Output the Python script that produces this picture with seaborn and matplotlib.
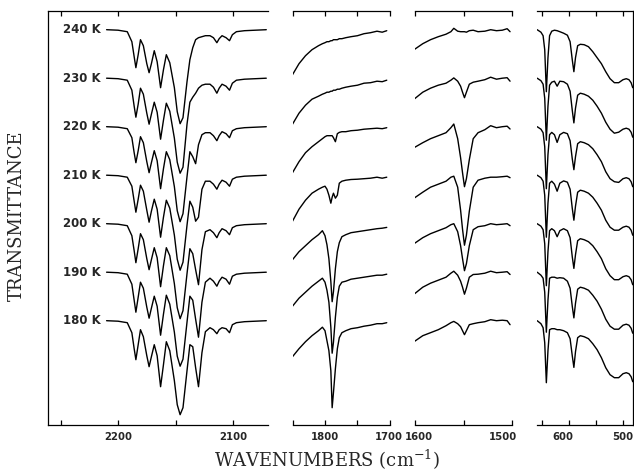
import numpy as np
import pandas as pd
import matplotlib
matplotlib.use("Agg")
import matplotlib.pyplot as plt
import seaborn as sns
from matplotlib.transforms import ScaledTranslation, offset_copy

# ---------------- data ----------------
TEMPS = ["240 K", "230 K", "220 K", "210 K", "200 K", "190 K", "180 K"]

# panel 1 : CO stretch region (wavenumber, cm-1)
WN_2150 = [2210, 2200, 2192, 2188, 2186, 2184.5, 2182.5, 2180.5, 2178, 2175,
           2173, 2171, 2168.5, 2166, 2163, 2160.5, 2158, 2155, 2151, 2148.5,
           2146, 2143.5, 2140, 2137.5, 2135, 2132.5, 2130, 2127, 2124, 2120,
           2117, 2114, 2112, 2109.5, 2106, 2103, 2100.5, 2097, 2090, 2071]
# transmittance drop below each trace's baseline (arbitrary units)
DROP_2150 = {
    "240 K": [0, 0.5, 2, 12, 27, 38, 25, 10, 16, 34, 43, 34, 21, 32, 58, 40, 25, 33, 58, 82,
              94, 88, 52, 30, 18, 10, 8, 7, 6, 6, 8, 13, 9, 6, 8, 11, 5, 2, 1, 0],
    "230 K": [0, 0.5, 2, 12, 28, 39, 26, 10, 16, 35, 46, 36, 24, 34, 61, 42, 25, 33, 60, 84,
              95, 89, 46, 24, 19, 15, 10, 7, 6, 6, 9, 15, 10, 6, 8, 12, 5, 2, 1, 0],
    "220 K": [0, 0.5, 2, 11, 26, 36, 24, 10, 16, 35, 46, 36, 24, 34, 62, 42, 25, 33, 60, 84,
              95, 87, 50, 25, 30, 37, 18, 8, 6, 6, 9, 14, 9, 5, 7, 11, 4, 2, 1, 0],
    "210 K": [0, 0.5, 2, 11, 26, 37, 24, 10, 16, 35, 47, 36, 24, 34, 62, 42, 25, 33, 60, 84,
              95, 87, 50, 26, 32, 46, 42, 14, 6, 6, 9, 14, 9, 5, 7, 11, 4, 2, 1, 0],
    "200 K": [0, 0.5, 2, 12, 27, 39, 25, 10, 16, 35, 46, 36, 24, 34, 63, 42, 24, 32, 60, 84,
              95, 87, 50, 25, 30, 46, 61, 26, 8, 6, 9, 14, 9, 5, 7, 11, 4, 2, 1, 0],
    "190 K": [0, 0.5, 2, 12, 28, 40, 25, 10, 16, 35, 46, 36, 24, 34, 63, 42, 23, 32, 60, 84,
              94, 87, 50, 24, 28, 47, 65, 30, 10, 6, 9, 14, 9, 5, 7, 12, 4, 2, 1, 0],
    "180 K": [0, 0.5, 2, 12, 28, 39, 24, 9, 16, 35, 46, 36, 24, 35, 66, 44, 21, 30, 60, 84,
              94, 87, 50, 24, 26, 47, 66, 32, 11, 7, 9, 13, 9, 7, 8, 12, 4, 2, 1, 0],
}

# panel 2 : 1850-1700 cm-1
WN_1800 = [1850, 1840, 1830, 1820, 1810, 1804, 1800, 1797, 1794, 1791, 1789, 1787,
           1784, 1781, 1778, 1774, 1768, 1760, 1750, 1740, 1730, 1720, 1712, 1705]
DROP_1800 = {
    "240 K": [45, 34, 26, 20, 16, 14, 13, 12, 12, 11, 11, 10, 10, 10, 9, 9, 8, 7, 6, 4, 3, 1.5, 2.5, 1],
    "230 K": [46, 35, 27, 21, 18, 16, 15, 14, 14, 13, 13, 12, 12, 11, 11, 10, 9, 8, 7, 5, 4.5, 3, 3.5, 2],
    "220 K": [46, 35, 26, 20, 15, 12, 10, 9, 9, 9, 9, 11, 15, 7, 5.7, 5, 5, 4, 3.5, 2.5, 2, 1.5, 2, 1],
    "210 K": [46, 34, 25, 18, 14, 12, 11, 14, 20, 28, 22, 18, 23, 20, 8, 6, 5, 4.3, 4, 3.5, 3, 2, 3, 2],
    "200 K": [36, 28, 22, 16, 11, 7, 12, 21, 35, 58, 78, 68, 45, 28, 19, 13, 11, 9, 8, 7, 6, 5, 4.5, 3.7],
    "190 K": [34, 26, 20, 14, 9, 6, 10, 18, 30, 55, 81, 70, 45, 25, 14, 10, 9, 7, 6, 5, 4, 3, 3, 2],
    "180 K": [36, 28, 21, 15, 10, 6.5, 10, 20, 30, 50, 87, 72, 48, 28, 17, 12, 10, 8, 7, 5.5, 4.5, 3, 3, 2],
}

# panel 3 : 1600-1500 cm-1
WN_1550 = [1601, 1592, 1584, 1576, 1568, 1563, 1560, 1556, 1553, 1551, 1549,
           1547, 1544, 1540, 1535, 1528, 1522, 1516, 1510, 1505, 1502]
DROP_1550 = {
    "240 K": [20, 14, 10, 7, 4.5, 2, -1.4, 1.5, 2, 2, 2, 2.5, 1, 0.5, 2, 1.5, 0, 1, 0.5, -1, 2],
    "230 K": [21, 14, 10, 7, 5, 2, -0.3, 3, 8, 14, 19.5, 14, 6, 4, 3, 1.5, -1, 1, 0, -0.5, 3],
    "220 K": [21, 16, 12, 9, 6, 1, -2.7, 12, 31, 46, 60, 52, 33, 12, 6, 3, -1, 1, 0, -0.5, 2.3],
    "210 K": [23, 17, 12, 9, 6, 2, 1, 12, 35, 54, 70, 60, 36, 12, 5, 3, 2, 2, 1.5, 1, 2.5],
    "200 K": [20, 14, 10, 7, 4, 1, 0, 8, 22, 35, 47, 40, 22, 6, 3, 2, 0, 1, 0.5, 0, 2],
    "190 K": [22, 15, 11, 8, 5, 1, -1, 3, 9, 15, 22, 16, 5, 2.3, 2, 1, -1, 0.5, 0, -0.5, 2.3],
    "180 K": [21, 15, 12, 9, 5, 2, 0.7, 3, 6, 10, 14, 10, 4, 3, 2, 1, -1, 0, -0.5, 0, 4],
}

# panel 4 : 660-480 cm-1
WN_600 = [659, 652, 648, 645, 642, 639, 636, 632, 627, 622, 617, 610, 603, 598, 594, 591, 588,
          584, 579, 572, 564, 556, 548, 540, 532, 524, 516, 508, 500, 494, 489, 485, 482]
DROP_600 = {
    "240 K": [0, 2.5, 6, 20, 62, 28, 6, 1.5, 0.5, 1, 2, 3.5, 5.5, 12, 30, 42, 28, 16, 14.6, 15, 17,
              22, 28, 34, 42, 49, 53, 53, 50, 49, 50, 53, 58],
    "230 K": [0, 2.5, 6, 20, 62, 28, 7, 4, 3, 8, 3, 3.5, 6, 13, 32, 44.7, 30, 17, 15, 16, 18,
              22, 28, 35, 44, 51, 55, 54, 51, 50, 51, 54, 59],
    "220 K": [0, 2.5, 6, 20, 62, 28, 8, 5.7, 8, 15.7, 8, 5.7, 7, 14, 32, 43, 30, 17, 15, 16, 18,
              22, 28, 35, 45, 52, 55, 55.7, 52, 51, 52, 55, 60],
    "210 K": [0, 2.5, 6, 20, 62, 28, 8, 6, 9, 16, 8, 5.7, 7, 14, 33, 45, 31, 17, 15, 16, 18,
              22, 28, 35, 45, 52, 55, 55, 52, 51, 52, 55, 60],
    "200 K": [0, 2.5, 6, 20, 62, 28, 7, 5, 7, 13, 7, 5, 7, 14, 33, 44.7, 31, 17, 15, 16, 18,
              22, 28, 35, 45, 52, 56, 56, 53, 52, 53, 56, 61],
    "190 K": [0, 3, 6, 20, 60, 28, 6, 5, 5, 6, 5.5, 6, 9, 16, 34, 45.7, 31, 17, 15, 16, 18,
              23, 29, 37, 47, 54, 57, 57, 53, 52, 53, 56, 61],
    "180 K": [0, 3, 7, 22, 62, 30, 9, 8, 8, 9, 9, 10, 12, 18, 35, 46.7, 31, 17, 15, 16, 18,
              23, 29, 37, 47, 54, 57, 57, 53, 52, 53, 56, 61],
}

# axis ranges / ticks (cm-1)
XLIM = [(2261, 2069.5), (1850, 1700), (1600, 1500), (659.3, 481.5)]
MAJOR = [[2200, 2100], [1800, 1700], [1600, 1500], [600, 500]]
MINOR = [[2250, 2150], [1850, 1750], [1550], [650, 550]]

# ---------------- layout ----------------
W, H = 634, 471
SPACING = 48.5           # vertical offset between stacked traces
YLIM = (-395.3, 18.7)
PANELS_PX = [(48, 268), (292.5, 390), (415, 512), (537, 633)]
TOP_PX, BOT_PX = 11, 425

sns.set_style("white")
plt.rcParams["font.family"] = ["DejaVu Sans"]
plt.rcParams["mathtext.fontset"] = "dejavuserif"

fig = plt.figure(figsize=(W / 100, H / 100), dpi=100)

datasets = [(WN_2150, DROP_2150), (WN_1800, DROP_1800),
            (WN_1550, DROP_1550), (WN_600, DROP_600)]

axes = []
for k, ((x0, x1), (wn, drops)) in enumerate(zip(PANELS_PX, datasets)):
    ax = fig.add_axes([x0 / W, 1 - BOT_PX / H, (x1 - x0) / W, (BOT_PX - TOP_PX) / H])
    rows = []
    for i, t in enumerate(TEMPS):
        for w, d in zip(wn, drops[t]):
            rows.append({"wn": w, "T": -d - i * SPACING, "temp": t})
    df = pd.DataFrame(rows)
    sns.lineplot(data=df, x="wn", y="T", units="temp", estimator=None,
                 color="black", linewidth=1.0, ax=ax, legend=False)
    ax.set_xlim(*XLIM[k])
    ax.set_ylim(*YLIM)
    ax.set_xlabel("")
    ax.set_ylabel("")
    ax.set_yticks([])
    ax.set_xticks(MAJOR[k], labels=[str(v) for v in MAJOR[k]])
    ax.set_xticks(MINOR[k], minor=True)
    ax.tick_params(axis="x", which="both", direction="in", top=True, bottom=True,
                   length=3.5, width=0.9, color="black", pad=5)
    for lab in ax.get_xticklabels():
        lab.set_fontsize(7.3)
        lab.set_fontweight("bold")
    for side, sp in ax.spines.items():
        sp.set_linewidth(0.9)
        sp.set_color("black")
    ax.spines["left"].set_visible(k == 0)
    ax.spines["right"].set_visible(k == 3)
    ax.patch.set_alpha(0)
    axes.append(ax)

# small manual shifts of edge tick labels, as in the original
shifts = {"1700": -1.5, "1600": 4, "1500": -9, "600": -6}
for ax in axes:
    for lab in ax.get_xticklabels():
        if lab.get_text() in shifts:
            lab.set_transform(lab.get_transform() +
                              ScaledTranslation(shifts[lab.get_text()] / 100, 0, fig.dpi_scale_trans))

# temperature labels
ax1 = axes[0]
lab_tr = offset_copy(ax1.transData, fig=fig, x=-6, y=0, units="dots")
for i, t in enumerate(TEMPS):
    ax1.text(WN_2150[0], -i * SPACING, t, transform=lab_tr, ha="right", va="center",
             fontsize=8.5, fontweight="bold", family="DejaVu Sans")

fig.text(17 / W, 1 - 216 / H, "TRANSMITTANCE", rotation=90, ha="center", va="center",
         family="DejaVu Serif", fontsize=13)
fig.text(327 / W, 1 - 460 / H, "WAVENUMBERS (cm$^{-1}$)", ha="center", va="center",
         family="DejaVu Serif", fontsize=13)

fig.savefig("out.png", dpi=100)
